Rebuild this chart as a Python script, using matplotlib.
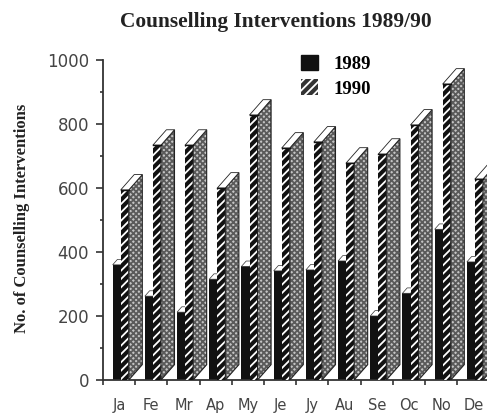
import matplotlib
matplotlib.use("Agg")
import matplotlib.pyplot as plt
from matplotlib.patches import Polygon, Patch
from matplotlib.ticker import MultipleLocator

months = ["Ja", "Fe", "Mr", "Ap", "My", "Je", "Jy", "Au", "Se", "Oc", "No", "De"]
v1989 = [360, 262, 212, 315, 355, 341, 344, 372, 200, 271, 471, 369]
v1990 = [594, 734, 734, 600, 828, 725, 744, 678, 706, 797, 925, 628]

W, H = 487, 420
plt.rcParams["hatch.linewidth"] = 1.3
serif = ["Liberation Serif", "DejaVu Serif"]

fig = plt.figure(figsize=(W / 100, H / 100), dpi=100)
ax = fig.add_axes([103 / W, 1 - 380 / H, (W - 103) / W, 320 / H])
ax.set_xlim(0, (W - 103) / 32.2)
ax.set_ylim(0, 1000)

bw = 0.25
dx = 0.42
dy = 48
off = 0.3

x = [i + off for i in range(len(months))]
ax.bar(x, v1989, bw, align="edge", color="#111111", zorder=2)
for i, v in enumerate(v1989):
    ax.add_patch(Polygon([(x[i], v), (x[i] + dx * 0.35, v + dy * 0.35), (x[i] + bw + 0.15, v + dy * 0.35), (x[i] + bw, v)],
                         fc="white", ec="#333333", lw=0.5, zorder=2))

x2 = [i + off + bw for i in range(len(months))]
ax.bar(x2, v1990, bw, align="edge", color="#111111", edgecolor="white", hatch="////", lw=0, zorder=3)
for i, v in enumerate(v1990):
    l = x2[i]
    r = l + bw
    side = [(r, 0), (r + dx, dy), (r + dx, v + dy), (r, v)]
    # hatch colour comes from ec, so the outline goes on separately
    ax.add_patch(Polygon(side, fc="#c4c4c4", ec="#5a5a5a", hatch="xxxxxx", lw=0, zorder=3))
    ax.add_patch(Polygon(side, fc="none", ec="#222222", lw=0.8, zorder=3))
    ax.add_patch(Polygon([(l, v), (l + dx, v + dy), (r + dx, v + dy), (r, v)],
                         fc="white", ec="#222222", lw=0.6, zorder=4))
    ax.plot([l, r], [v, v], color="#111111", lw=1, zorder=5)

for s in ["top", "right"]:
    ax.spines[s].set_visible(False)
for s in ["left", "bottom"]:
    ax.spines[s].set_linewidth(1.3)
    ax.spines[s].set_color("#333333")

ax.set_yticks([0, 200, 400, 600, 800, 1000])
ax.yaxis.set_minor_locator(MultipleLocator(100))
ax.tick_params(axis="y", which="major", length=5, width=1.2, color="#333333", labelsize=12, labelcolor="#444444", pad=5)
ax.tick_params(axis="y", which="minor", length=2.5, width=1.2, color="#333333")
ax.set_xticks(range(len(months)))
ax.set_xticks([i + 0.5 for i in range(len(months))], labels=months, minor=True)
ax.tick_params(axis="x", which="major", length=3.5, width=1.2, color="#333333", labelbottom=False)
ax.tick_params(axis="x", which="minor", length=0, labelsize=10.5, labelcolor="#444444", pad=13)

fig.text(276 / W, 1 - 22 / H, "Counselling Interventions 1989/90", family=serif, weight="bold",
         fontsize=15.4, ha="center", va="center", color="#222222")
fig.text(22 / W, 1 - 218 / H, "No. of Counselling Interventions", family=serif, weight="bold",
         fontsize=12, rotation=90, ha="center", va="center", color="#222222")

handles = [Patch(fc="#111111", ec="#111111", label="1989"),
           Patch(fc="#333333", ec="white", hatch="////", lw=0, label="1990")]
ax.legend(handles=handles, loc="upper left", bbox_to_anchor=((290 - 103) / (W - 103), 1.052), frameon=False,
          prop={"family": serif, "weight": "bold", "size": 13.5}, handlelength=0.9, handleheight=0.9,
          labelspacing=0.35, handletextpad=0.8, borderpad=0.1)

fig.savefig("out.png", dpi=100)
